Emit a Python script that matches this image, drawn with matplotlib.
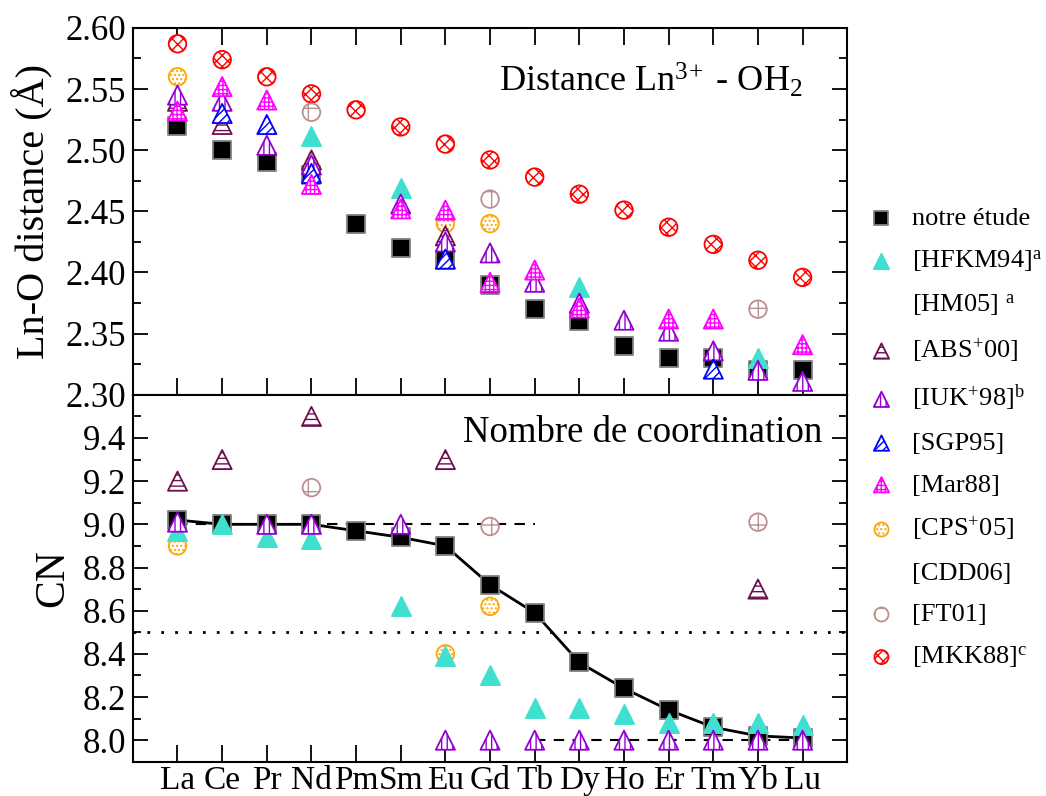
import numpy as np
import matplotlib
matplotlib.use('Agg')
import matplotlib.pyplot as plt
from matplotlib.lines import Line2D
from matplotlib.ticker import MultipleLocator, FixedLocator, FormatStrFormatter

plt.rcParams['font.family'] = ['Liberation Serif', 'DejaVu Serif']
plt.rcParams['mathtext.fontset'] = 'custom'
plt.rcParams['mathtext.rm'] = 'Liberation Serif'
plt.rcParams['mathtext.it'] = 'Liberation Serif:italic'
plt.rcParams['hatch.linewidth'] = 1.0

elements = ['La', 'Ce', 'Pr', 'Nd', 'Pm', 'Sm', 'Eu', 'Gd', 'Tb', 'Dy', 'Ho', 'Er', 'Tm', 'Yb', 'Lu']
N = None

# Ln-O distance (Angstrom)
d_notre = [2.52, 2.50, 2.49, 2.48, 2.44, 2.42, 2.41, 2.39, 2.37, 2.36, 2.34, 2.33, 2.33, 2.32, 2.32]
d_hfkm94 = [N, N, N, 2.512, N, 2.469, N, N, N, 2.388, N, N, N, 2.330, N]
d_abs00 = [2.540, 2.521, N, 2.492, N, N, 2.430, N, N, N, N, N, N, N, N]
d_iuk98 = [2.545, 2.540, 2.504, 2.488, N, 2.456, 2.425, 2.416, 2.392, 2.375, 2.361, 2.352, 2.336, 2.320, 2.311]
d_sgp95 = [N, 2.530, 2.521, 2.481, N, N, 2.411, N, N, N, N, N, 2.321, N, N]
d_mar88 = [2.532, 2.552, 2.541, 2.472, N, 2.452, 2.451, 2.392, 2.402, 2.371, N, 2.362, 2.362, N, 2.341]
d_cps05 = [2.560, N, N, N, N, N, 2.440, 2.440, N, N, N, N, N, N, N]
d_ft01 = [N, N, N, 2.531, N, N, N, 2.460, N, N, N, N, N, 2.370, N]
d_mkk88 = [2.587, 2.574, 2.560, 2.546, 2.533, 2.519, 2.505, 2.492, 2.478, 2.464, 2.451, 2.437, 2.423, 2.410, 2.396]

# coordination number
cn_notre = [9.02, 9.00, 9.00, 9.00, 8.97, 8.94, 8.90, 8.72, 8.59, 8.36, 8.24, 8.14, 8.06, 8.02, 8.01]
cn_hfkm94 = [8.97, 9.00, 8.94, 8.93, N, 8.62, 8.39, 8.30, 8.15, 8.15, 8.12, 8.08, 8.08, 8.08, 8.07]
cn_abs00 = [9.20, 9.30, N, 9.50, N, N, 9.30, N, N, N, N, N, N, 8.70, N]
cn_iuk98 = [9.01, N, 9.00, 9.00, N, 9.00, 8.00, 8.00, 8.00, 8.00, 8.00, 8.00, 8.00, 8.00, 8.00]
cn_cps05 = [8.90, N, N, N, N, N, 8.40, 8.62, N, N, N, N, N, N, N]
cn_ft01 = [N, N, N, 9.17, N, N, N, 8.99, N, N, N, N, N, 9.01, N]

# guide lines (CN 9 for La..Tb, CN 8 for Tb..Lu)
cn9_range = ['La', 'Tb']
cn8_range = ['Tb', 'Lu']
cn_split = 8.5

x = np.arange(len(elements))


def arr(vals):
    return np.array([np.nan if v is None else v for v in vals], dtype=float)


styles = {
    'notre': dict(marker='s', facecolor='black', edgecolor='#808080', hatch=None, s=175),
    'hfkm94': dict(marker='^', facecolor='#40E0D0', edgecolor='#40E0D0', hatch=None, s=190),
    'abs00': dict(marker='^', facecolor='white', edgecolor='#6B0F4F', hatch='---', s=190),
    'iuk98': dict(marker='^', facecolor='white', edgecolor='#9400D3', hatch='|||', s=190),
    'sgp95': dict(marker='^', facecolor='white', edgecolor='#0000FF', hatch='////', s=190),
    'mar88': dict(marker='^', facecolor='white', edgecolor='#FF00FF', hatch='++++', s=190),
    'cps05': dict(marker='o', facecolor='white', edgecolor='#FFA500', hatch='....', s=160),
    'ft01': dict(marker='o', facecolor='white', edgecolor='#BC8F8F', hatch='-|', s=160),
    'mkk88': dict(marker='o', facecolor='white', edgecolor='#FF0000', hatch='xxx', s=160),
}


def draw(ax, key, vals, z=3):
    st = styles[key]
    return ax.scatter(x, arr(vals), marker=st['marker'], s=st['s'], facecolors=st['facecolor'],
                      edgecolors=st['edgecolor'], hatch=st['hatch'], linewidths=1.3, zorder=z)


fig = plt.figure(figsize=(10.46, 7.96), dpi=100)
ax1 = fig.add_axes([0.127, 0.504, 0.683, 0.461])
ax2 = fig.add_axes([0.127, 0.043, 0.683, 0.461], sharex=ax1)

# top panel
h_notre = draw(ax1, 'notre', d_notre, 3)
h_mkk = draw(ax1, 'mkk88', d_mkk88, 4)
h_ft = draw(ax1, 'ft01', d_ft01, 4)
h_cps = draw(ax1, 'cps05', d_cps05, 4)
h_hf = draw(ax1, 'hfkm94', d_hfkm94, 4)
h_abs = draw(ax1, 'abs00', d_abs00, 4)
h_iuk = draw(ax1, 'iuk98', d_iuk98, 5)
h_sgp = draw(ax1, 'sgp95', d_sgp95, 5)
h_mar = draw(ax1, 'mar88', d_mar88, 5)

# bottom panel
i9 = [elements.index(e) for e in cn9_range]
i8 = [elements.index(e) for e in cn8_range]
ax2.plot(i9, [9.0, 9.0], color='black', ls=(0, (5, 4)), lw=1.5, zorder=1)
ax2.plot(i8, [8.0, 8.0], color='black', ls=(0, (5, 4)), lw=1.5, zorder=1)
ax2.axhline(cn_split, color='black', ls=(0, (1, 4)), lw=2, zorder=1)
ax2.plot(x, cn_notre, color='black', lw=2, zorder=2)
draw(ax2, 'notre', cn_notre, 3)
draw(ax2, 'ft01', cn_ft01, 4)
draw(ax2, 'cps05', cn_cps05, 4)
draw(ax2, 'hfkm94', cn_hfkm94, 5)
draw(ax2, 'abs00', cn_abs00, 4)
draw(ax2, 'iuk98', cn_iuk98, 5)

ax1.set_xlim(-1, len(elements))
ax1.set_ylim(2.30, 2.60)
ax2.set_ylim(7.9, 9.6)

ax1.yaxis.set_major_locator(MultipleLocator(0.05))
ax1.yaxis.set_minor_locator(MultipleLocator(0.025))
ax1.yaxis.set_major_formatter(FormatStrFormatter('%.2f'))
ax2.yaxis.set_major_locator(FixedLocator([8.0, 8.2, 8.4, 8.6, 8.8, 9.0, 9.2, 9.4]))
ax2.yaxis.set_minor_locator(FixedLocator([7.9, 8.1, 8.3, 8.5, 8.7, 8.9, 9.1, 9.3, 9.5]))
ax2.yaxis.set_major_formatter(FormatStrFormatter('%.1f'))
ax2.set_xticks(x)
ax2.set_xticklabels(elements)

for ax in (ax1, ax2):
    for sp in ax.spines.values():
        sp.set_linewidth(1.5)
    ax.tick_params(axis='y', which='major', direction='in', length=11, width=1.3,
                   left=True, right=True, labelsize=25, pad=5)
    ax.tick_params(axis='y', which='minor', direction='in', length=5.5, width=1.3,
                   left=True, right=True)
    ax.tick_params(axis='x', which='major', direction='in', length=12, width=1.3, labelsize=24)
ax1.tick_params(axis='x', top=True, bottom=True, labelbottom=False)
ax2.tick_params(axis='x', top=False, bottom=True, pad=3)

ax1.set_ylabel('Ln-O distance (Å)', fontsize=29)
ax2.set_ylabel('CN', fontsize=30)
ax1.yaxis.set_label_coords(-0.112, 0.5)
ax2.yaxis.set_label_coords(-0.085, 0.5)

ax1.text(0.937, 0.826, 'Distance Ln$^{3\\!+}$ - OH$_2$', transform=ax1.transAxes,
         ha='right', va='baseline', fontsize=26)
ax2.text(0.965, 0.872, 'Nombre de coordination', transform=ax2.transAxes,
         ha='right', va='baseline', fontsize=26.5)

blank = Line2D([], [], ls='none', marker=None)
handles = [h_notre, h_hf, blank, h_abs, h_iuk, h_sgp, h_mar, h_cps, blank, h_ft, h_mkk]
labels = ['notre étude', '[HFKM94]$^{\\rm a}$', '[HM05] $^{\\rm a}$', '[ABS$^{+}$00]',
          '[IUK$^{+}$98]$^{\\rm b}$', '[SGP95]', '[Mar88]', '[CPS$^{+}$05]', '[CDD06]',
          '[FT01]', '[MKK88]$^{\\rm c}$']
leg = fig.legend(handles, labels, loc='center left', bbox_to_anchor=(0.820, 0.449),
                 frameon=False, fontsize=19, labelspacing=0.69, handlelength=1.0,
                 handletextpad=0.65, markerscale=0.8, borderaxespad=0)

fig.savefig('out.png', dpi=100)
